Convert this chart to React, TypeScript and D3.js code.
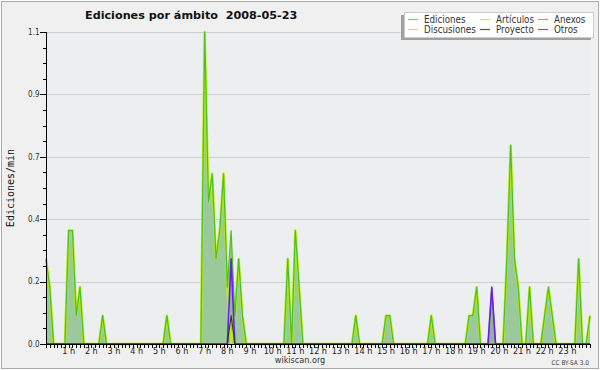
import React from 'react';
import * as d3 from 'd3';

// 10-minute bins, 00:00 .. 24:00 (edits per minute)
const ediciones = [
  0.3, 0.2, 0, 0, 0, 0,
  0.4, 0.4, 0.1, 0.2, 0, 0,
  0, 0, 0, 0.1, 0, 0,
  0, 0, 0, 0, 0, 0,
  0, 0, 0, 0, 0, 0,
  0, 0, 0.1, 0, 0, 0,
  0, 0, 0, 0, 0, 0,
  1.1, 0.5, 0.6, 0.3, 0.4, 0.6,
  0.2, 0.4, 0.1, 0.3, 0.1, 0,
  0, 0, 0, 0, 0, 0,
  0, 0, 0, 0, 0.3, 0,
  0.4, 0.2, 0, 0, 0, 0,
  0, 0, 0, 0, 0, 0,
  0, 0, 0, 0, 0.1, 0,
  0, 0, 0, 0, 0, 0,
  0.1, 0.1, 0, 0, 0, 0,
  0, 0, 0, 0, 0, 0,
  0.1, 0, 0, 0, 0, 0,
  0, 0, 0, 0, 0.1, 0.1,
  0.2, 0, 0, 0, 0.2, 0,
  0, 0, 0.3, 0.7, 0.3, 0.2,
  0, 0, 0.2, 0, 0, 0,
  0.1, 0.2, 0.1, 0, 0, 0,
  0, 0, 0, 0.3, 0, 0,
  0.1,
];
const articulos = [
  0.3, 0.2, 0, 0, 0, 0,
  0.4, 0.4, 0.1, 0.2, 0, 0,
  0, 0, 0, 0.1, 0, 0,
  0, 0, 0, 0, 0, 0,
  0, 0, 0, 0, 0, 0,
  0, 0, 0.1, 0, 0, 0,
  0, 0, 0, 0, 0, 0,
  1.1, 0.5, 0.6, 0.3, 0.4, 0.6,
  0.2, 0, 0.1, 0.3, 0.1, 0,
  0, 0, 0, 0, 0, 0,
  0, 0, 0, 0, 0.3, 0,
  0.4, 0.2, 0, 0, 0, 0,
  0, 0, 0, 0, 0, 0,
  0, 0, 0, 0, 0.1, 0,
  0, 0, 0, 0, 0, 0,
  0.1, 0.1, 0, 0, 0, 0,
  0, 0, 0, 0, 0, 0,
  0.1, 0, 0, 0, 0, 0,
  0, 0, 0, 0, 0.1, 0.1,
  0.2, 0, 0, 0, 0, 0,
  0, 0, 0.3, 0.7, 0.3, 0.2,
  0, 0, 0.2, 0, 0, 0,
  0.1, 0.2, 0.1, 0, 0, 0,
  0, 0, 0, 0.3, 0, 0,
  0.1,
];
const otros = [
  0, 0, 0, 0, 0, 0,  0, 0, 0, 0, 0, 0,  0, 0, 0, 0, 0, 0,  0, 0, 0, 0, 0, 0,
  0, 0, 0, 0, 0, 0,  0, 0, 0, 0, 0, 0,  0, 0, 0, 0, 0, 0,  0, 0, 0, 0, 0, 0,
  0, 0.3, 0, 0, 0, 0,  0, 0, 0, 0, 0, 0,  0, 0, 0, 0, 0, 0,  0, 0, 0, 0, 0, 0,
  0, 0, 0, 0, 0, 0,  0, 0, 0, 0, 0, 0,  0, 0, 0, 0, 0, 0,  0, 0, 0, 0, 0, 0,
  0, 0, 0, 0, 0, 0,  0, 0, 0, 0, 0, 0,  0, 0, 0, 0, 0, 0,  0, 0, 0, 0, 0.2, 0,
  0, 0, 0, 0, 0, 0,  0, 0, 0, 0, 0, 0,  0, 0, 0, 0, 0, 0,  0, 0, 0, 0, 0, 0,
  0,
];
const proyecto = [
  0, 0, 0, 0, 0, 0,  0, 0, 0, 0, 0, 0,  0, 0, 0, 0, 0, 0,  0, 0, 0, 0, 0, 0,
  0, 0, 0, 0, 0, 0,  0, 0, 0, 0, 0, 0,  0, 0, 0, 0, 0, 0,  0, 0, 0, 0, 0, 0,
  0, 0.1, 0, 0, 0, 0,  0, 0, 0, 0, 0, 0,  0, 0, 0, 0, 0, 0,  0, 0, 0, 0, 0, 0,
  0, 0, 0, 0, 0, 0,  0, 0, 0, 0, 0, 0,  0, 0, 0, 0, 0, 0,  0, 0, 0, 0, 0, 0,
  0, 0, 0, 0, 0, 0,  0, 0, 0, 0, 0, 0,  0, 0, 0, 0, 0, 0,  0, 0, 0, 0, 0, 0,
  0, 0, 0, 0, 0, 0,  0, 0, 0, 0, 0, 0,  0, 0, 0, 0, 0, 0,  0, 0, 0, 0, 0, 0,
  0,
];

const yTickLabels = ['0.0', '0.2', '0.4', '0.7', '0.9', '1.1'];
const hourLabels = ['1 h', '2 h', '3 h', '4 h', '5 h', '6 h', '7 h', '8 h', '9 h', '10 h', '11 h', '12 h',
  '13 h', '14 h', '15 h', '16 h', '17 h', '18 h', '19 h', '20 h', '21 h', '22 h', '23 h'];

const legendItems = [
  { name: 'Ediciones', color: '#7fd17f' },
  { name: 'Artículos', color: '#c8ee40' },
  { name: 'Anexos', color: '#f08a5a' },
  { name: 'Discusiones', color: '#f6d24a' },
  { name: 'Proyecto', color: '#555555' },
  { name: 'Otros', color: '#8a4af0' },
];

const title = 'Ediciones por ámbito  2008-05-23';
const yLabel = 'Ediciones/min';

const FONT = '"DejaVu Sans Condensed", "DejaVu Sans", sans-serif';

export default function App() {
  const W = 600, H = 370;
  const x0 = 46, x1 = 590, yTop = 32, yBot = 344;
  const x = d3.scaleLinear().domain([0, 1440]).range([x0, x1]);
  const y = d3.scaleLinear().domain([0, 1.1]).range([yBot, yTop]);
  const t = (i: number) => i * 10;

  const line = d3.line<number>().x((d, i) => x(t(i))).y(d => y(d));
  const area = d3.area<number>().x((d, i) => x(t(i))).y0(y(0)).y1(d => y(d));

  const majors = yTickLabels.map((lab, k) => ({ lab, v: (1.1 * k) / (yTickLabels.length - 1) }));
  const minors = d3.range(0, 21).map(k => (1.1 * k) / 20);
  const xTicks = d3.range(0, 1441, 10);
  const crisp = (v: number) => Math.round(v) + 0.5;

  const lx = 404, ly = 12, lw = 190, lh = 25;
  const colX = [408, 480, 538];
  const rowY = [19.5, 29.5];

  return (
    <svg width={W} height={H} style={{ position: 'absolute', left: 0, top: 0, display: 'block' }}>
      <rect x={0} y={0} width={W} height={H} fill="#ffffff" />
      <rect x={1.5} y={1.5} width={597} height={367} fill="#f0f0f0" stroke="#aaaaaa" />
      <rect x={x0} y={yTop} width={x1 - x0} height={yBot - yTop} fill="#eceef0" />

      {/* grid */}
      {majors.map(m => (
        <line key={'g' + m.lab} x1={x0} x2={x1} y1={crisp(y(m.v))} y2={crisp(y(m.v))} stroke="#cfcfcf" strokeWidth={1} />
      ))}

      {/* series */}
      <path d={area(ediciones) || ''} fill="#9cc99c" stroke="none" />
      <path d={area(otros) || ''} fill="rgba(120,60,220,0.18)" stroke="none" />
      <path d={line(articulos) || ''} fill="none" stroke="#b8ec1c" strokeWidth={2.4} strokeLinejoin="round" />
      <path d={line(ediciones) || ''} fill="none" stroke="#4cc21a" strokeWidth={1.2} strokeLinejoin="round" />
      <path d={line(otros) || ''} fill="none" stroke="#6a1ee8" strokeWidth={1.6} strokeLinejoin="round" />
      <path d={line(proyecto) || ''} fill="none" stroke="#333333" strokeWidth={1.1} strokeLinejoin="round" />

      {/* axes */}
      <line x1={x0 + 0.5} x2={x0 + 0.5} y1={yTop} y2={yBot + 1} stroke="#000" strokeWidth={1} />
      <line x1={x0} x2={x1} y1={yBot + 0.5} y2={yBot + 0.5} stroke="#000" strokeWidth={1} />
      {minors.map((v, k) => (
        <line key={'mn' + k} x1={k % 4 === 0 ? x0 - 6 : x0 - 3} x2={x0} y1={crisp(y(v))} y2={crisp(y(v))} stroke="#000" strokeWidth={1} />
      ))}
      {majors.map(m => (
        <text key={'yl' + m.lab} x={39.5} y={y(m.v)} dy="0.35em" textAnchor="end" fontFamily={FONT} fontSize={8} fill="#333">{m.lab}</text>
      ))}
      {xTicks.map(m => (
        <line key={'xt' + m} x1={crisp(x(m))} x2={crisp(x(m))} y1={yBot} y2={yBot + 4} stroke="#000" strokeWidth={1} />
      ))}
      {hourLabels.map((lab, k) => (
        <text key={'xl' + lab} x={x((k + 1) * 60)} y={354} textAnchor="middle" fontFamily={FONT} fontSize={9} fill="#222">{lab}</text>
      ))}

      <text transform="translate(13.5,188) rotate(-90)" textAnchor="middle" fontFamily='"DejaVu Sans Mono", monospace' fontSize={10} fill="#111">{yLabel}</text>

      {/* title */}
      <text x={85} y={19} fontFamily='"DejaVu Sans", sans-serif' fontWeight="bold" fontSize={11.2} fill="#111" style={{ whiteSpace: 'pre' }}>{title}</text>

      {/* legend */}
      <rect x={lx - 3} y={ly + 3} width={lw} height={lh} fill="#a0a0a0" />
      <rect x={lx + 0.5} y={ly + 0.5} width={lw - 1} height={lh} fill="#ffffff" stroke="#cccccc" />
      {legendItems.map((it, k) => {
        const cx = colX[k % 3];
        const cy = rowY[Math.floor(k / 3)];
        return (
          <g key={it.name}>
            <line x1={cx} x2={cx + 10} y1={cy} y2={cy} stroke={it.color} strokeWidth={1.2} />
            <text x={cx + 16} y={cy + 3.3} fontFamily={FONT} fontSize={9.7} fill="#333">{it.name}</text>
          </g>
        );
      })}

      {/* footer */}
      <text x={300} y={363} textAnchor="middle" fontFamily={FONT} fontSize={9} fill="#333">wikiscan.org</text>
      <text x={589} y={364.5} textAnchor="end" fontFamily={FONT} fontSize={6.5} fill="#444">CC BY-SA 3.0</text>
    </svg>
  );
}
